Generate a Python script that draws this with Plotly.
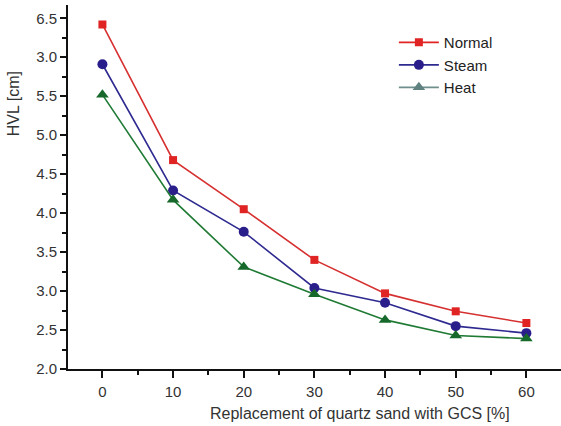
import plotly.graph_objects as go

x_pct = [0, 10, 20, 30, 40, 50, 60]
normal = [6.42, 4.68, 4.05, 3.40, 2.97, 2.74, 2.59]
steam = [5.91, 4.29, 3.76, 3.04, 2.85, 2.55, 2.46]
heat = [5.52, 4.17, 3.31, 2.96, 2.63, 2.43, 2.39]

y_tickvals = [2.0, 2.5, 3.0, 3.5, 4.0, 4.5, 5.0, 5.5, 6.0, 6.5]
y_ticktext = ["2.0", "2.5", "3.0", "3.5", "4.0", "4.5", "5.0", "5.5", "3.0", "6.5"]

series = [
    ("Normal", normal, "#d63030", "#e02424", "square", 8, "#e02424", "#e02424"),
    ("Steam", steam, "#2e2a90", "#2a1f8a", "circle", 10, "#2e2a90", "#2a1f8a"),
    ("Heat", heat, "#1f7a34", "#17692b", "triangle-up", 11, "#6f8f8c", "#5f8280"),
]

fig = go.Figure()
for name, vals, lc, mc, sym, ms, leg_lc, leg_mc in series:
    fig.add_trace(go.Scatter(
        x=x_pct, y=vals, mode="lines+markers", name=name, showlegend=False,
        line=dict(color=lc, width=1.6),
        marker=dict(symbol=sym, size=ms, color=mc),
    ))
for name, vals, lc, mc, sym, ms, leg_lc, leg_mc in series:
    fig.add_trace(go.Scatter(
        x=[None], y=[None], mode="lines+markers", name=name,
        line=dict(color=leg_lc, width=1.6),
        marker=dict(symbol=sym, size=ms, color=leg_mc),
    ))

font = "Liberation Sans, Arial, Helvetica, sans-serif"
fig.update_layout(
    width=561, height=426,
    margin=dict(l=68, r=0, t=5, b=57),
    paper_bgcolor="white", plot_bgcolor="white",
    font=dict(family=font, size=15, color="#333333"),
    showlegend=True,
    legend=dict(x=0.661, y=0.942, xanchor="left", yanchor="top",
                bgcolor="rgba(0,0,0,0)", font=dict(size=15, color="#222222"),
                itemwidth=40, tracegroupgap=0),
    xaxis=dict(
        range=[-4.87, 64.9], showline=True, linecolor="#111111", linewidth=2,
        showgrid=False, zeroline=False,
        tickmode="array", tickvals=x_pct, ticktext=[str(v) for v in x_pct],
        ticks="outside", ticklen=7, tickwidth=2, tickcolor="#111111",
        ticklabelstandoff=1,
        minor=dict(dtick=5, tick0=0, ticks="outside", ticklen=4, tickwidth=2,
                   tickcolor="#111111", showgrid=False),
        tickfont=dict(size=15, color="#333333"),
    ),
    yaxis=dict(
        range=[2.0, 6.67], showline=True, linecolor="#111111", linewidth=2,
        showgrid=False, zeroline=False,
        tickmode="array", tickvals=y_tickvals, ticktext=y_ticktext,
        ticks="outside", ticklen=6, tickwidth=2, tickcolor="#111111",
        minor=dict(dtick=0.25, tick0=2.0, ticks="outside", ticklen=4, tickwidth=2,
                   tickcolor="#111111", showgrid=False),
        tickfont=dict(size=15, color="#333333"),
    ),
    annotations=[
        dict(text="Replacement of quartz sand with GCS [%]", xref="paper", yref="paper",
             x=0.592, y=-0.1227, xanchor="center", yanchor="middle", showarrow=False,
             font=dict(size=16, color="#333333")),
        dict(text="HVL [cm]", xref="paper", yref="paper", textangle=-90,
             x=-0.11, y=0.7296, xanchor="center", yanchor="middle", showarrow=False,
             font=dict(size=16, color="#333333")),
    ],
)

fig.write_html("out.html")
